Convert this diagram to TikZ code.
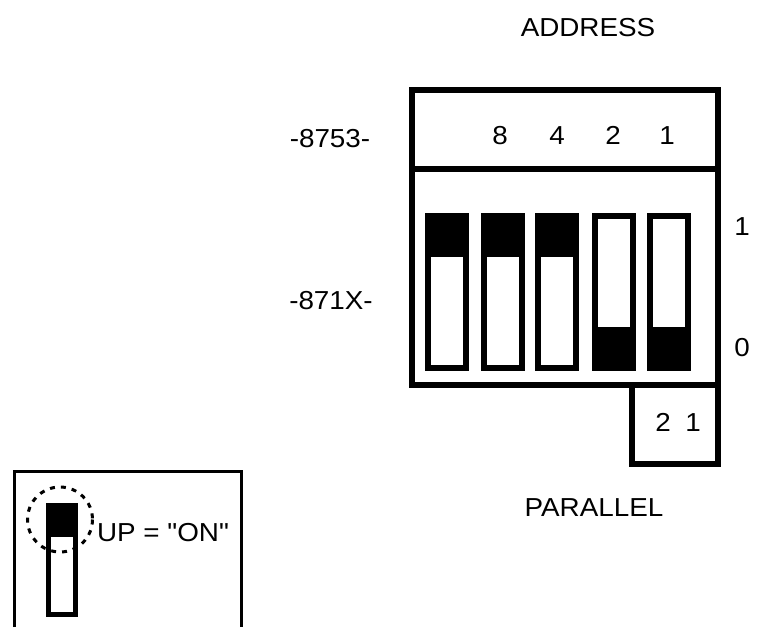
\documentclass[tikz,border=0pt]{standalone}
\usepackage{fontspec}
\setmainfont[FakeStretch=1.07,Ligatures=TeXOff]{Liberation Sans}
\tikzset{
  label/.style={font=\fontsize{26}{26}\selectfont,inner sep=0pt,text height=18.6pt,text depth=0pt},
  frame/.style={line width=6pt,line cap=rect},
  switch/.style={line width=6pt,fill=white}
}
\begin{document}
\begin{tikzpicture}[x=1pt,y=-1pt]
  \useasboundingbox (0,0) rectangle (781,627);
  \fill[white] (0,0) rectangle (781,627);
  % dip switch block
  \draw[frame] (412,90) rectangle (718,384.5);
  \draw[frame] (412,169)--(718,169);
  \draw[frame] (631.5,384.5)--(631.5,463.5)--(718,463.5)--(718,384.5);
  % switches set to 1
  \foreach \x in {428,484,538}{
    \draw[switch] (\x,216) rectangle (\x+38,368);
    \fill (\x-3,213) rectangle (\x+41,257);
  }
  % switches set to 0
  \foreach \x in {595,650}{
    \draw[switch] (\x,216) rectangle (\x+38,368);
    \fill (\x-3,327) rectangle (\x+41,371);
  }
  \node[label] (address) at (588,27) {ADDRESS};
  \node[label] (parallel) at (594,507) {PARALLEL};
  \node[label] (sw8753) at (330,138) {-8753-};
  \node[label] (sw871x) at (331,300) {-871X-};
  \node[label] (bit8) at (500,135) {8};
  \node[label] (bit4) at (557,135) {4};
  \node[label] (bit2) at (613,135) {2};
  \node[label] (bit1) at (667,135) {1};
  \node[label] (up) at (742,226) {1};
  \node[label] (down) at (742,347) {0};
  \node[label] (par2) at (663,422) {2};
  \node[label] (par1) at (693,422) {1};
  % legend
  \draw[line width=3pt] (14,627)--(14,471.5)--(241.5,471.5)--(241.5,627);
  \draw[line width=5pt,fill=white] (48.5,505.5) rectangle (75.5,614.5);
  \fill (46,503) rectangle (78,537);
  \draw[line width=3pt,dash pattern=on 5pt off 6pt] (60,519.5) circle (32.5);
  \node[label] (on) at (163,532) {UP = "ON"};
\end{tikzpicture}
\end{document}
